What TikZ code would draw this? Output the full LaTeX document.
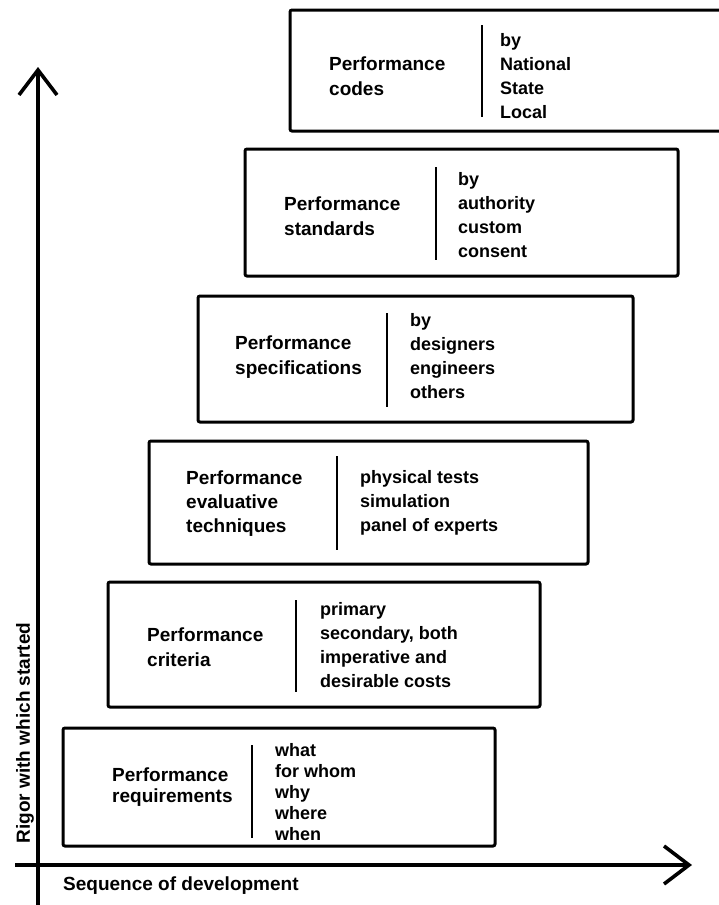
\documentclass[tikz,border=0pt]{standalone}
\usepackage{fontspec}
\setmainfont{Liberation Sans}
\usetikzlibrary{arrows.meta}

\tikzset{
  panel/.style={line width=3pt, rounded corners=2pt},
  divider/.style={line width=2.8pt},
  axis/.style={line width=3.6pt, -{Straight Barb[length=25pt,width=38pt]}},
  label/.style={inner sep=0pt, font=\bfseries\fontsize{19}{22}\selectfont},
  title/.style={anchor=west, align=left, inner sep=0pt, font=\bfseries\fontsize{19}{25}\selectfont},
  items/.style={anchor=west, align=left, inner sep=0pt, font=\bfseries\fontsize{18}{24}\selectfont}
}

\begin{document}
\begin{tikzpicture}[x=1pt,y=-1pt]
				\useasboundingbox (0,0) rectangle (718,905);
				% axes
				\coordinate (ybot) at (38,905);
				\coordinate (ytop) at (38,67);
				\coordinate (xleft) at (15,865);
				\coordinate (xright) at (692,865);
				\draw[axis] (ybot) -- (ytop);
				\draw[axis] (xleft) -- (xright);
				\node[label, rotate=90] (rigor) at (25,733) {Rigor with which started};
				\node[label, anchor=west] (sequence) at (63,886) {Sequence of development};
				% codes
				\draw[panel] (290,10) rectangle (740,131);
				\node[title] (codes) at (329,76) {Performance\\codes};
				\draw[divider] (482,25) -- (482,117);
				\node[items] (codesby) at (500,76) {by\\National\\State\\Local};
				% standards
				\draw[panel] (245,149) rectangle (678,276);
				\node[title] (standards) at (284,216) {Performance\\standards};
				\draw[divider] (436,167) -- (436,260);
				\node[items] (standardsby) at (458,215) {by\\authority\\custom\\consent};
				% specifications
				\draw[panel] (198,296) rectangle (633,422);
				\node[title] (specs) at (235,357) {Performance\\specifications};
				\draw[divider] (387,313) -- (387,407);
				\node[items] (specsby) at (410,356) {by\\designers\\engineers\\others};
				% evaluative techniques
				\draw[panel] (149,441) rectangle (588,564);
				\node[title, font=\bfseries\fontsize{19}{24}\selectfont] (evaluative) at (186,504) {Performance\\evaluative\\techniques};
				\draw[divider] (337,456) -- (337,550);
				\node[items] (evaluativeby) at (360,503) {physical tests\\simulation\\panel of experts};
				% criteria
				\draw[panel] (108,582) rectangle (540,707);
				\node[title] (criteria) at (147,647) {Performance\\criteria};
				\draw[divider] (296,600) -- (296,692);
				\node[items] (criteriaby) at (320,645) {primary\\secondary, both\\imperative and\\desirable costs};
				% requirements
				\draw[panel] (63,728) rectangle (495,846);
				\node[title, font=\bfseries\fontsize{19}{21}\selectfont] (requirements) at (112,787) {Performance\\requirements};
				\draw[divider] (252,745) -- (252,838);
				\node[items, font=\bfseries\fontsize{18}{21}\selectfont] (requirementsby) at (275,792) {what\\for whom\\why\\where\\when};
			\end{tikzpicture}
\end{document}
